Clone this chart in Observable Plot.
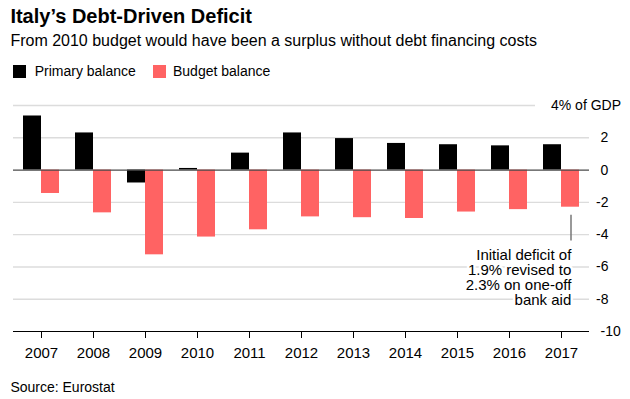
<!DOCTYPE html>
<html>
<head>
<meta charset="utf-8">
<script src="https://cdn.jsdelivr.net/npm/d3@7"></script>
<script src="https://cdn.jsdelivr.net/npm/@observablehq/plot@0.6"></script>
<style>
  html, body { margin: 0; padding: 0; background: #fff; }
  #wrap { position: relative; width: 630px; height: 399px; overflow: hidden; font-family: "Liberation Sans", Arial, sans-serif; color: #000; }
  .t { position: absolute; left: 10.4px; white-space: nowrap; }
  #title { top: 5.8px; font-size: 20px; line-height: 20px; font-weight: bold; }
  #subtitle { top: 32.5px; font-size: 16px; line-height: 16px; }
  #legend { position: absolute; top: 64.2px; left: 0; font-size: 14px; line-height: 14px; white-space: nowrap; }
  .sw { position: absolute; top: 0.8px; width: 13px; height: 13px; }
  .lb { position: absolute; top: 0; }
  #source { top: 379.9px; font-size: 14px; line-height: 14px; }
  #chart { position: absolute; left: 0; top: 88px; }
</style>
</head>
<body>
<div id="wrap">
  <div class="t" id="title"></div>
  <div class="t" id="subtitle"></div>
  <div id="legend"></div>
  <div id="chart"></div>
  <div class="t" id="source"></div>
</div>
<script>
const title = "Italy’s Debt-Driven Deficit";
const subtitle = "From 2010 budget would have been a surplus without debt financing costs";
const source = "Source: Eurostat";
const seriesNames = ["Primary balance", "Budget balance"];
const seriesColors = ["#000000", "#ff6363"];

const years = ["2007","2008","2009","2010","2011","2012","2013","2014","2015","2016","2017"];
const primaryBalance = [3.35, 2.3, -0.8, 0.1, 1.05, 2.3, 1.95, 1.65, 1.57, 1.5, 1.57];
const budgetBalance  = [-1.45, -2.65, -5.25, -4.15, -3.7, -2.9, -2.95, -3.0, -2.6, -2.45, -2.3];

const yDomain = [-10, 4];
const yTicksPlain = [-10, 0, 2];
const yTicksNegative = [-8, -6, -4, -2];
const gridTicks = [-8, -6, -4, -2, 2];
const topTick = 4;
const topTickLabel = "4% of GDP";

const noteYear = "2017";
const noteLineTop = -2.8;
const noteLineBottom = -4.4;
const noteTextY = -4.9;
const noteText = "Initial deficit of\n1.9% revised to\n2.3% on one-off\nbank aid";

document.getElementById("title").textContent = title;
document.getElementById("subtitle").textContent = subtitle;
document.getElementById("source").textContent = source;
const legend = document.getElementById("legend");
const swX = [13, 152.7], lbX = [34.7, 173];
seriesNames.forEach((n, i) => {
  const s = document.createElement("div"); s.className = "sw";
  s.style.left = swX[i] + "px"; s.style.background = seriesColors[i];
  const l = document.createElement("div"); l.className = "lb";
  l.style.left = lbX[i] + "px"; l.textContent = n;
  legend.appendChild(s); legend.appendChild(l);
});

const rows = years.map((y, i) => ({year: y, primary: primaryBalance[i], budget: budgetBalance[i]}));

const chart = Plot.plot({
  width: 630,
  height: 273,
  marginLeft: 13,
  marginRight: 41,
  marginTop: 17,
  marginBottom: 30,
  style: {fontFamily: "'Liberation Sans', Arial, sans-serif", fontSize: "15px", color: "#000", background: "transparent", overflow: "visible"},
  x: {domain: years, paddingInner: 0.314, paddingOuter: 0.157, tickSize: 7, tickPadding: 9, label: null},
  y: {domain: yDomain, label: null},
  marks: [
    Plot.ruleY(gridTicks, {stroke: "#dcdcdc", strokeWidth: 1.4}),
    Plot.ruleY([topTick], {stroke: "#dcdcdc", strokeWidth: 1.4, insetRight: 54}),
    Plot.barY(rows, {x: "year", y: "primary", fill: seriesColors[0], insetRight: 18}),
    Plot.barY(rows, {x: "year", y: "budget", fill: seriesColors[1], insetLeft: 18}),
    Plot.ruleY([0], {stroke: "#4a4a4a", strokeWidth: 1.3}),
    Plot.ruleY([yDomain[0]], {stroke: "#000", strokeWidth: 1.2}),
    Plot.axisY(yTicksPlain, {anchor: "right", tickSize: 0, tickPadding: 11, fontSize: 14, tickFormat: d => String(d), label: null}),
    Plot.axisY(yTicksNegative, {anchor: "right", tickSize: 0, tickPadding: 6.5, fontSize: 14, tickFormat: d => String(d), label: null}),
    Plot.text([topTickLabel], {y: () => topTick, text: d => d, frameAnchor: "right", textAnchor: "end", dx: 31.5, fontSize: 14, fill: "#000"}),
    Plot.ruleX([noteYear], {x: d => d, y1: noteLineTop, y2: noteLineBottom, dx: 9.5, stroke: "#777", strokeWidth: 1.5}),
    Plot.text([noteText], {x: () => noteYear, y: () => noteTextY, text: d => d, dx: 9.8, textAnchor: "end", lineAnchor: "top", lineHeight: 1, fontSize: 15, fill: "#000", stroke: "white", strokeWidth: 5, paintOrder: "stroke"})
  ]
});
document.getElementById("chart").appendChild(chart);
</script>
</body>
</html>
